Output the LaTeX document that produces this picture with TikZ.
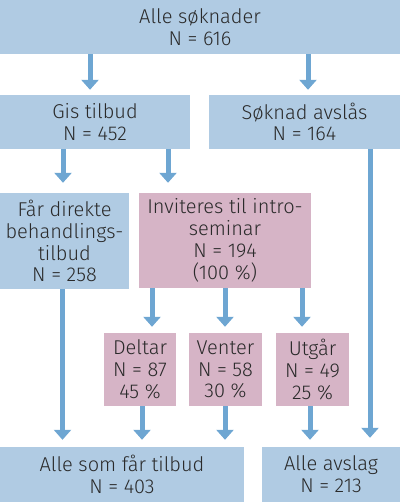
\documentclass[tikz,border=0pt]{standalone}
\usepackage{fontspec}
\setmainfont{Fira Sans Light}
\usetikzlibrary{arrows.meta}
\definecolor{boxblue}{HTML}{B0CBE3}
\definecolor{boxpink}{HTML}{D6B4C6}
\definecolor{arrowblue}{HTML}{6EA6D2}
\definecolor{textgrey}{HTML}{2A2A2A}

\begin{document}
\begin{tikzpicture}[x=1pt,y=-1pt,
        box/.style={fill=boxblue,inner sep=0pt,align=center,text=textgrey,
            font=\fontsize{20}{21.8}\selectfont},
        pinkbox/.style={box,fill=boxpink},
        flow/.style={->,>={Triangle[width=17pt,length=10pt]},line width=5pt,arrowblue,shorten >=5pt}]
            \useasboundingbox (0, 0) rectangle (400, 502);

            \node[box,minimum width=400pt,minimum height=54pt] (alle) at (200, 27) {Alle søknader\\N = 616};
            \node[box,minimum width=190pt,minimum height=54pt] (gis) at (95, 122) {Gis tilbud\\N = 452};
            \node[box,minimum width=191pt,minimum height=54pt] (avslaas) at (304.5, 122) {Søknad avslås\\N = 164};
            \node[box,minimum width=129pt,minimum height=96pt] (direkte) at (64.5, 241) {Får direkte\\behandlings-\\tilbud\\N = 258};
            \node[pinkbox,minimum width=172pt,minimum height=95pt] (intro) at (225, 240.5) {Inviteres til intro-\\seminar\\N = 194\\(100 \%)};

            \node[pinkbox,minimum width=72pt,minimum height=73pt] (deltar) at (140, 369.5) {Deltar\\N = 87\\45 \%};
            \node[pinkbox,minimum width=73pt,minimum height=73pt] (venter) at (225.5, 369.5) {Venter\\N = 58\\30 \%};
            \node[pinkbox,minimum width=73pt,minimum height=73pt] (utgaar) at (312.5, 369.5) {Utgår\\N = 49\\25 \%};

            \node[box,minimum width=244pt,minimum height=55pt] (tilbud) at (122, 474.5) {Alle som får tilbud\\N = 403};
            \node[box,minimum width=138pt,minimum height=55pt] (avslag) at (331, 474.5) {Alle avslag\\N = 213};

            \draw[flow] ([xshift=-110pt]alle.south) -- ([xshift=-5pt]gis.north);
            \draw[flow] ([xshift=108pt]alle.south) -- ([xshift=3.5pt]avslaas.north);

            \draw[flow,shorten >=10pt] ([xshift=-32pt]gis.south) -- ([xshift=-1.5pt]direkte.north);
            \draw[flow,shorten >=10pt] ([xshift=73pt]gis.south) -- ([xshift=-57pt]intro.north);
            \draw[flow,shorten >=9pt] ([xshift=65.5pt]avslaas.south) -- ([xshift=65.5pt]avslaas.south |- avslag.north);

            \draw[flow,shorten >=6pt] ([xshift=-73pt]intro.south) -- ([xshift=12pt]deltar.north);
            \draw[flow,shorten >=6pt] (intro.south) -- ([xshift=-0.5pt]venter.north);
            \draw[flow,shorten >=6pt] ([xshift=77pt]intro.south) -- ([xshift=-10.5pt]utgaar.north);

            \draw[flow,shorten >=7pt] ([xshift=-2pt]direkte.south) -- ([xshift=-2pt]direkte.south |- tilbud.north);
            \draw[flow,shorten >=7pt] ([xshift=2pt]deltar.south) -- ([xshift=2pt]deltar.south |- tilbud.north);
            \draw[flow,shorten >=7pt] ([xshift=-0.5pt]venter.south) -- ([xshift=-0.5pt]venter.south |- tilbud.north);
            \draw[flow,shorten >=7pt] ([xshift=-2.5pt]utgaar.south) -- ([xshift=-2.5pt]utgaar.south |- avslag.north);
        \end{tikzpicture}
\end{document}
